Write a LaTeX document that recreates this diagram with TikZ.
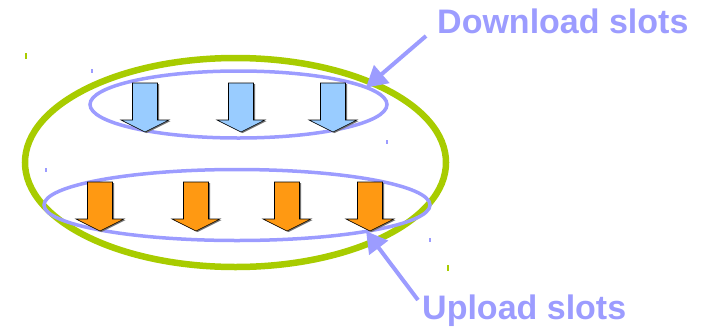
\documentclass[tikz,border=0pt]{standalone}
\usepackage{fontspec}
\setmainfont{Liberation Sans}
\usetikzlibrary{shapes.geometric,arrows.meta}

\definecolor{slotpurple}{HTML}{9C9CFF}
\definecolor{peergreen}{HTML}{A8CC00}
\definecolor{downblue}{HTML}{99CCFF}
\definecolor{uporange}{HTML}{FF9912}

\tikzset{
  ring/.style={draw=#1, ellipse, inner sep=0pt, fill=none},
  callout/.style={draw=slotpurple, line width=4pt,
    -{Triangle[length=21pt,width=23pt]}, shorten >=-2pt},
  caption/.style={text=slotpurple, font=\bfseries\fontsize{34}{34}\selectfont,
    inner sep=0pt, anchor=base west},
  tick/.style={line width=1.5pt},
  pics/slot/.style={code={
    % soft shadow on the right-hand side
    \fill[black!55] (-11,1) -- (14,1) -- (14,38) -- (25.5,38) -- (1.5,50)
      -- (-22.5,38) -- (-11,38) -- cycle;
    \draw[fill=#1, line width=0.6pt, line join=miter]
      (-12.5,0) -- (12.5,0) -- (12.5,37) -- (24,37) -- (0,49)
      -- (-24,37) -- (-12.5,37) -- cycle;
  }}
}

\begin{document}
\begin{tikzpicture}[x=1pt, y=-1pt]
  \useasboundingbox (0,0) rectangle (708,327);

  % the peer
  \node[ring=peergreen, line width=6.5pt,
        minimum width=421pt, minimum height=209pt] (peer) at (235.5,162.5) {};

  % download slots
  \node[ring=slotpurple, line width=3.5pt,
        minimum width=297pt, minimum height=67pt] (down) at (238.5,104.5) {};
  \foreach \x/\n in {145/d1, 241/d2, 333/d3}
    \pic (\n) at (\x,83) {slot=downblue};

  % upload slots
  \node[ring=slotpurple, line width=3.5pt,
        minimum width=386pt, minimum height=71pt] (up) at (237,205) {};
  \foreach \x/\n in {100/u1, 196/u2, 287/u3, 370/u4}
    \pic (\n) at (\x,182) {slot=uporange};

  % captions and their pointers
  \node[caption] (dlabel) at (437,33) {Download slots};
  \node[caption] (ulabel) at (422,319) {Upload slots};
  \coordinate (dtail) at (426,36);
  \coordinate (utail) at (418,300);
  \draw[callout] (dtail) -- (down.8);
  \draw[callout] (utail) -- (up.-12);

  % stray marks
  \draw[tick, peergreen] (26,53) -- (26,59);
  \draw[tick, peergreen] (448,265) -- (448,271);
  \draw[tick, slotpurple] (92,69) -- (92,73);
  \draw[tick, slotpurple] (46,168) -- (46,172);
  \draw[tick, slotpurple] (387,140) -- (387,144);
  \draw[tick, slotpurple] (430,238) -- (430,242);
\end{tikzpicture}
\end{document}
